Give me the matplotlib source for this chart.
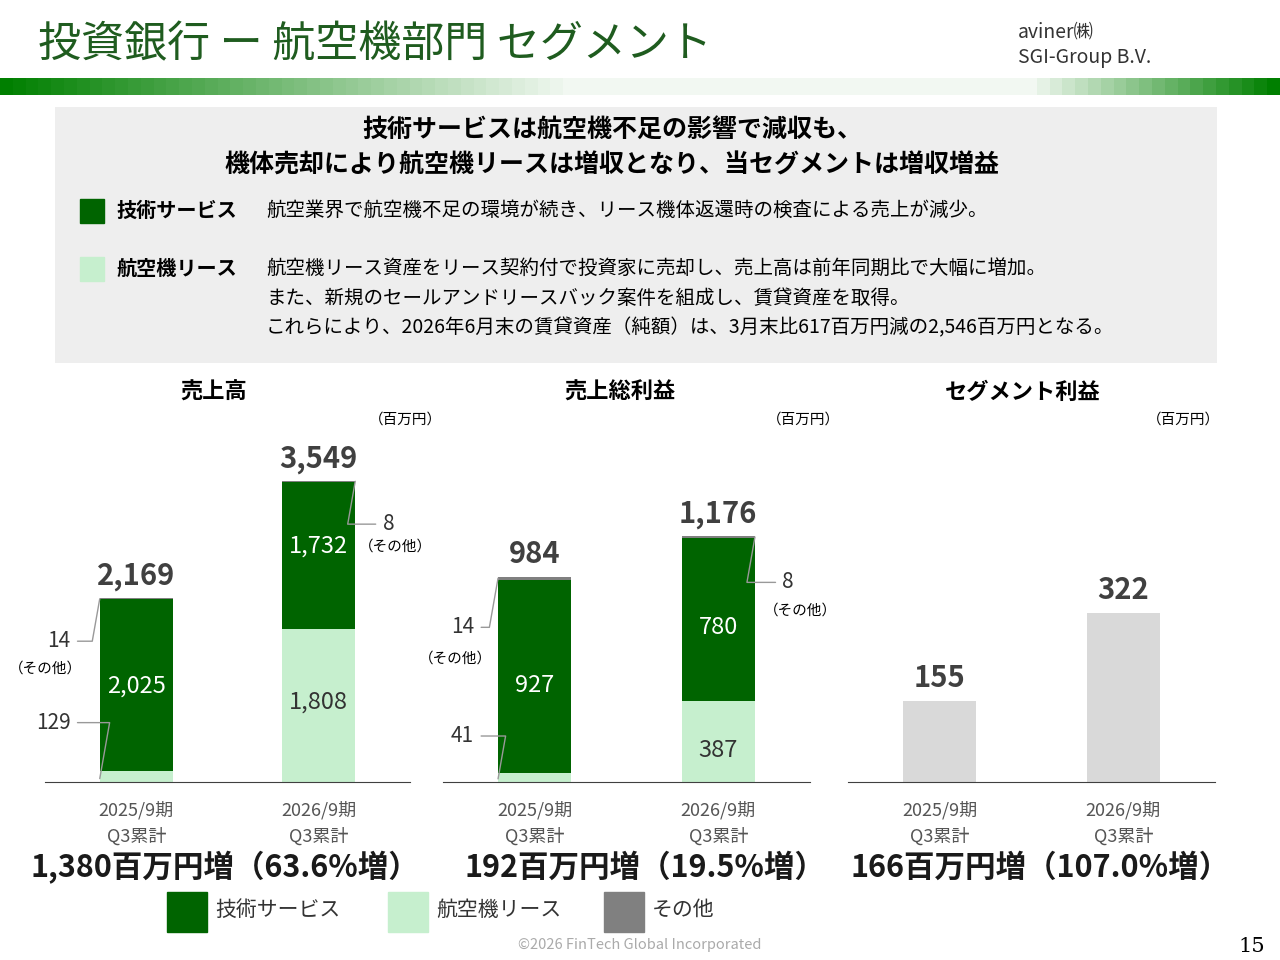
# -*- coding: utf-8 -*-
import numpy as np
import matplotlib.pyplot as plt

plt.rcParams['font.family'] = ['Noto Sans CJK JP', 'DejaVu Sans']

W, H = 1280, 960
VERDE = '#006400'
CLARO = '#c6efce'
CINZA = '#808080'


def eixo(fig, x0, y0, x1, y1):
    # pixel box -> axes
    return fig.add_axes([x0 / W, 1 - y1 / H, (x1 - x0) / W, (y1 - y0) / H])


def txt(fig, x, y, s, **kw):
    fig.text(x / W, 1 - y / H, s, **kw)


def empilhado(ax, dados, ymax, totais):
    xs = [0, 1]
    lease = [d[0] for d in dados]
    tec = [d[1] for d in dados]
    outro = [d[2] for d in dados]
    ax.bar(xs, lease, width=0.4, color=CLARO)
    ax.bar(xs, tec, width=0.4, bottom=lease, color=VERDE)
    ax.bar(xs, outro, width=0.4, bottom=np.add(lease, tec), color=CINZA)
    ax.set_xlim(-0.5, 1.5)
    ax.set_ylim(0, ymax)
    for i, t in enumerate(totais):
        ax.text(xs[i], t + ymax * 0.02, f'{t:,}', ha='center', va='bottom',
                fontsize=21, fontweight='bold', color='#404040')


def estilo(ax):
    for s in ['top', 'right', 'left']:
        ax.spines[s].set_visible(False)
    ax.spines['bottom'].set_color('#404040')
    ax.set_yticks([])
    ax.set_xticks([0, 1])
    ax.set_xticklabels(['2025/9期\nQ3累計', '2026/9期\nQ3累計'], fontsize=13, color='#555555', linespacing=1.5)
    ax.tick_params(axis='x', length=0, pad=14)


def chamada(ax, s, xy, xytext, ha='right', ang=(0, 80)):
    ax.annotate(s, xy=xy, xytext=xytext, fontsize=15, ha=ha, va='center', color='#333333',
                arrowprops=dict(arrowstyle='-', color='#999999', shrinkA=3, shrinkB=0,
                                connectionstyle=f'angle,angleA={ang[0]},angleB={ang[1]},rad=0'))


if __name__ == '__main__':
    fig = plt.figure(figsize=(12.8, 9.6), dpi=100)

    # cabecalho
    txt(fig, 38, 45, '投資銀行 ー 航空機部門 セグメント', fontsize=31, color='#1f5c1f', va='center')
    txt(fig, 1018, 32, 'aviner㈱', fontsize=14, color='#333333', va='center')
    txt(fig, 1018, 57, 'SGI-Group B.V.', fontsize=14, color='#333333', va='center')
    g = eixo(fig, 0, 78, 1280, 95)
    r = np.concatenate([np.linspace(0, 1, 45), np.ones(35), np.linspace(1, 0, 20)])
    c0 = np.array([0.0, 0.5, 0.0])
    grad = c0 + (1 - c0) * r[:, None] * 0.95
    g.imshow(grad[None, :, :], aspect='auto')
    g.axis('off')

    caixa = eixo(fig, 55, 107, 1217, 363)
    caixa.set_facecolor('#eeeeee')
    caixa.set_xticks([]); caixa.set_yticks([])
    for s in caixa.spines.values():
        s.set_visible(False)
    txt(fig, 612, 130, '技術サービスは航空機不足の影響で減収も、', fontsize=18, fontweight='bold', ha='center', va='center')
    txt(fig, 612, 165, '機体売却により航空機リースは増収となり、当セグメントは増収増益', fontsize=18, fontweight='bold', ha='center', va='center')
    fig.patches.append(plt.Rectangle((80 / W, 1 - 223 / H), 24 / W, 24 / H, transform=fig.transFigure, color=VERDE))
    fig.patches.append(plt.Rectangle((80 / W, 1 - 281 / H), 24 / W, 24 / H, transform=fig.transFigure, color=CLARO))
    txt(fig, 116, 210, '技術サービス', fontsize=14.5, fontweight='bold', va='center')
    txt(fig, 116, 268, '航空機リース', fontsize=14.5, fontweight='bold', va='center')
    txt(fig, 266, 210, '航空業界で航空機不足の環境が続き、リース機体返還時の検査による売上が減少。', fontsize=14, va='center')
    txt(fig, 266, 268, '航空機リース資産をリース契約付で投資家に売却し、売上高は前年同期比で大幅に増加。', fontsize=14, va='center')
    txt(fig, 266, 298, 'また、新規のセールアンドリースバック案件を組成し、賃貸資産を取得。', fontsize=14, va='center')
    txt(fig, 266, 328, 'これらにより、2026年6月末の賃貸資産（純額）は、3月末比617百万円減の2,546百万円となる。', fontsize=14, va='center')

    # graficos
    titulos = [(214, '売上高'), (620, '売上総利益'), (1023, 'セグメント利益')]
    for x, t in titulos:
        txt(fig, x, 392, t, fontsize=16, fontweight='bold', ha='center', va='center')
    for x in [405, 803, 1183]:
        txt(fig, x, 420, '（百万円）', fontsize=10.5, ha='center', va='center')

    ax1 = eixo(fig, 45, 430, 410, 782)
    empilhado(ax1, [(129, 2025, 14), (1808, 1732, 8)], 4150, [2169, 3549])
    ax1.text(0, 1050, '2,025', ha='center', color='white', fontsize=17)
    ax1.text(1, 2700, '1,732', ha='center', color='white', fontsize=17)
    ax1.text(1, 870, '1,808', ha='center', color='#333333', fontsize=17)
    chamada(ax1, '129', (-0.2, 40), (-0.36, 700))
    chamada(ax1, '14', (-0.2, 2160), (-0.36, 1660))
    ax1.text(-0.5, 1340, '（その他）', fontsize=10.5, ha='center', va='center')
    chamada(ax1, '8', (1.2, 3545), (1.35, 3040), ha='left', ang=(180, 80))
    ax1.text(1.42, 2770, '（その他）', fontsize=10.5, ha='center', va='center')
    estilo(ax1)

    ax2 = eixo(fig, 443, 430, 810, 782)
    empilhado(ax2, [(41, 927, 14), (387, 780, 8)], 1684, [984, 1176])
    ax2.text(0, 430, '927', ha='center', color='white', fontsize=17)
    ax2.text(1, 710, '780', ha='center', color='white', fontsize=17)
    ax2.text(1, 120, '387', ha='center', color='#333333', fontsize=17)
    chamada(ax2, '41', (-0.2, 15), (-0.33, 220))
    chamada(ax2, '14', (-0.2, 975), (-0.33, 740))
    ax2.text(-0.43, 590, '（その他）', fontsize=10.5, ha='center', va='center')
    chamada(ax2, '8', (1.2, 1172), (1.35, 955), ha='left', ang=(180, 80))
    ax2.text(1.45, 820, '（その他）', fontsize=10.5, ha='center', va='center')
    estilo(ax2)

    ax3 = eixo(fig, 848, 430, 1215, 782)
    seg = [155, 322]
    ax3.bar([0, 1], seg, width=0.4, color='#d9d9d9')
    ax3.set_xlim(-0.5, 1.5)
    ax3.set_ylim(0, 670)
    for i, v in enumerate(seg):
        ax3.text(i, v + 15, str(v), ha='center', va='bottom', fontsize=21, fontweight='bold', color='#404040')
    estilo(ax3)

    # variacoes
    for x, a, b in [(225, '1,380', '63.6'), (645, '192', '19.5'), (1040, '166', '107.0')]:
        fig.text(x / W, 1 - 868 / H, f'{a}百万円増（{b}%増）', fontsize=22, fontweight='bold',
                 ha='center', va='center', color='#1a1a1a')

    # legenda
    for x, c, s in [(167, VERDE, '技術サービス'), (388, CLARO, '航空機リース'), (604, CINZA, 'その他')]:
        fig.patches.append(plt.Rectangle((x / W, 1 - 932 / H), 40 / W, 40 / H, transform=fig.transFigure, color=c))
        txt(fig, x + 48, 910, s, fontsize=15, va='center', color='#333333')

    txt(fig, 640, 945, '©2026 FinTech Global Incorporated', fontsize=10.5, color='#aaaaaa', ha='center', va='center')
    txt(fig, 1265, 947, '15', fontsize=15, family='serif', ha='right', va='center')

    fig.savefig('out.png', dpi=100)
